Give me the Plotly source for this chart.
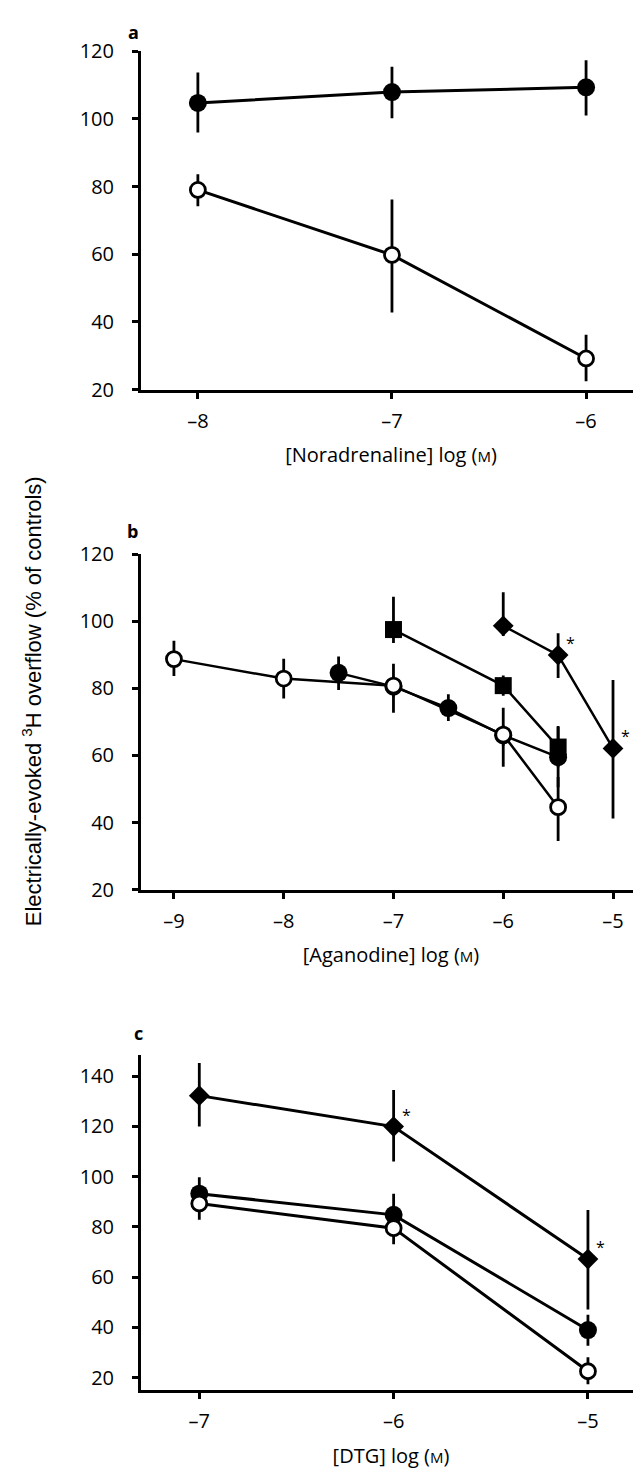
import plotly.graph_objects as go

# ---------------- data ----------------
# Panel a: noradrenaline
a_x = [-8, -7, -6]
a_filled = [104.7, 107.9, 109.3]
a_filled_up = [9.0, 7.5, 8.0]
a_filled_dn = [8.7, 7.7, 8.3]
a_open = [79.0, 59.8, 29.2]
a_open_up = [4.6, 16.4, 7.0]
a_open_dn = [4.8, 17.0, 6.7]

# Panel b: aganodine
b_open_x = [-9, -8, -7, -6, -5.5]
b_open = [88.7, 82.9, 80.8, 66.2, 44.6]
b_open_up = [5.5, 5.9, 6.5, 8.0, 9.0]
b_open_dn = [5.0, 5.9, 8.1, 9.6, 10.1]
b_filled_x = [-7.5, -7, -6.5, -6, -5.5]
b_filled = [84.6, 80.5, 74.1, 66.0, 59.5]
b_filled_up = [4.9, 3.0, 4.1, 3.0, 9.3]
b_filled_dn = [5.1, 3.0, 3.8, 3.0, 9.0]
b_square_x = [-7, -6, -5.5]
b_square = [97.5, 80.8, 62.5]
b_square_up = [9.8, 3.0, 6.0]
b_square_dn = [4.0, 3.0, 6.0]
b_diamond_x = [-6, -5.5, -5]
b_diamond = [98.6, 89.9, 62.1]
b_diamond_up = [10.0, 6.5, 20.4]
b_diamond_dn = [3.0, 6.8, 20.9]
b_star_x = [-5.5, -5]
b_star_y = [89.9, 62.1]

# Panel c: DTG
c_x = [-7, -6, -5]
c_diamond = [132.2, 119.9, 67.2]
c_diamond_up = [13.0, 14.5, 19.5]
c_diamond_dn = [12.3, 13.9, 20.0]
c_filled = [93.2, 84.8, 39.0]
c_filled_up = [6.5, 8.4, 6.1]
c_filled_dn = [6.5, 7.5, 6.3]
c_open = [89.3, 79.5, 22.6]
c_open_up = [6.5, 6.4, 5.6]
c_open_dn = [6.5, 6.4, 5.2]
c_star_x = [-6, -5]
c_star_y = [119.9, 67.2]

y_ticks_ab = [20, 40, 60, 80, 100, 120]
y_ticks_c = [20, 40, 60, 80, 100, 120, 140]
a_xticks = [-8, -7, -6]
b_xticks = [-9, -8, -7, -6, -5]
c_xticks = [-7, -6, -5]

# ---------------- figure ----------------
# the page body has an 8 px default margin; size the figure so it fills the window
OFF = 8
W, H = 641 - OFF, 1476 - OFF
fig = go.Figure()

TICKFONT = dict(family="Open Sans", size=20, color="black")


def err(up, dn, th):
    return dict(type="data", symmetric=False, array=up, arrayminus=dn,
                color="black", thickness=th, width=0)


def add(x, y, up, dn, kind, ax, lw=3.0):
    if kind == "filled":
        marker = dict(symbol="circle", size=18, color="black")
    elif kind == "open":
        marker = dict(symbol="circle", size=15, color="white",
                      line=dict(color="black", width=2.8))
    elif kind == "square":
        marker = dict(symbol="square", size=17, color="black")
    else:
        marker = dict(symbol="diamond", size=16, color="black")
    fig.add_trace(go.Scatter(
        x=x, y=y, mode="lines+markers", marker=marker,
        line=dict(color="black", width=lw), error_y=err(up, dn, 2.8),
        xaxis="x" + ax, yaxis="y" + ax, showlegend=False, cliponaxis=False))


# panel a
add(a_x, a_filled, a_filled_up, a_filled_dn, "filled", "")
add(a_x, a_open, a_open_up, a_open_dn, "open", "")
# panel b
add(b_filled_x, b_filled, b_filled_up, b_filled_dn, "filled", "2", 2.5)
add(b_square_x, b_square, b_square_up, b_square_dn, "square", "2", 2.5)
add(b_diamond_x, b_diamond, b_diamond_up, b_diamond_dn, "diamond", "2", 2.5)
add(b_open_x, b_open, b_open_up, b_open_dn, "open", "2", 2.5)
# panel c
add(c_x, c_diamond, c_diamond_up, c_diamond_dn, "diamond", "3")
add(c_x, c_filled, c_filled_up, c_filled_dn, "filled", "3")
add(c_x, c_open, c_open_up, c_open_dn, "open", "3")


def px_dom(top_px, bot_px):
    return [1 - (bot_px - OFF) / H, 1 - (top_px - OFF) / H]


def px_x(px):
    return (px - OFF) / W


def px_y(py):
    return 1 - (py - OFF) / H


xdom = [px_x(141), 1.0]


def xax(rng, ticks, title, anchor):
    return dict(domain=xdom, range=rng, anchor=anchor,
                tickvals=ticks, ticktext=["\u2013" + str(abs(t)) for t in ticks],
                showline=True, linecolor="black", linewidth=3,
                ticks="outside", ticklen=6, tickwidth=2.5, tickcolor="black",
                ticklabelstandoff=5,
                showgrid=False, zeroline=False, tickfont=TICKFONT,
                title=dict(text=title, font=dict(family="Open Sans", size=20, color="black"),
                           standoff=16))


def yax(rng, ticks, dom, anchor):
    return dict(domain=dom, range=rng, anchor=anchor, tickvals=ticks,
                showline=True, linecolor="black", linewidth=3,
                ticks="outside", ticklen=6, tickwidth=2.5, tickcolor="black",
                ticklabelstandoff=14,
                showgrid=False, zeroline=False, tickfont=TICKFONT)


M = "<span style='font-size:15px'>M</span>"
fig.update_layout(
    width=W, height=H, margin=dict(l=0, r=0, t=0, b=0),
    paper_bgcolor="white", plot_bgcolor="white",
    xaxis=xax([-8.293, -5.717], a_xticks, "[Noradrenaline] log (" + M + ")", "y"),
    yaxis=yax([20, 120], y_ticks_ab, px_dom(37.7, 382.5), "x"),
    xaxis2=xax([-9.30, -4.745], b_xticks, "[Aganodine] log (" + M + ")", "y2"),
    yaxis2=yax([20, 120], y_ticks_ab, px_dom(550, 892), "x2"),
    xaxis3=xax([-7.30, -4.727], c_xticks, "[DTG] log (" + M + ")", "y3"),
    yaxis3=yax([15, 148.5], y_ticks_c, px_dom(1060, 1402), "x3"),
)

ann = []
for lab, xp, yp in [("a", 133, 18), ("b", 132, 527), ("c", 138, 1038)]:
    ann.append(dict(text="<b>" + lab + "</b>", x=px_x(xp), y=px_y(yp),
                    xref="paper", yref="paper", showarrow=False,
                    xanchor="center", yanchor="middle",
                    font=dict(family="Open Sans", size=18, color="black")))
for sx, sy in zip(b_star_x, b_star_y):
    ann.append(dict(text="*", x=sx, y=sy, xref="x2", yref="y2", showarrow=False,
                    xshift=12, yshift=12, font=dict(family="Open Sans", size=16, color="black")))
for sx, sy in zip(c_star_x, c_star_y):
    ann.append(dict(text="*", x=sx, y=sy, xref="x3", yref="y3", showarrow=False,
                    xshift=13, yshift=12, font=dict(family="Open Sans", size=16, color="black")))
ann.append(dict(text="Electrically-evoked <sup>3</sup>H overflow (% of controls)",
                x=px_x(32), y=px_y(700), xref="paper", yref="paper", showarrow=False,
                xanchor="center", yanchor="middle",
                textangle=-90, font=dict(family="Liberation Sans", size=22, color="black")))
fig.update_layout(annotations=ann)

fig.write_html("out.html")
